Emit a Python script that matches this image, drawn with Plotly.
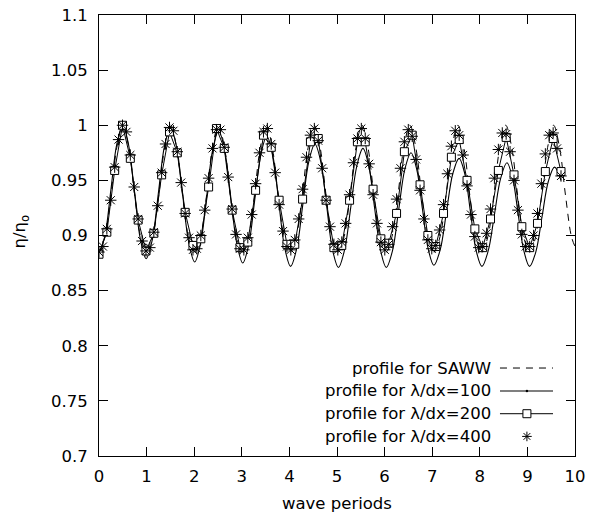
import plotly.graph_objects as go

# ---------------- data ----------------
x_saww = [0.000, 0.125, 0.250, 0.375, 0.500, 0.625, 0.750, 0.875,
          1.005, 1.130, 1.255, 1.380, 1.505, 1.630, 1.755, 1.880,
          2.010, 2.135, 2.260, 2.385, 2.510, 2.635, 2.760, 2.885,
          3.015, 3.140, 3.265, 3.390, 3.515, 3.640, 3.765, 3.890,
          4.020, 4.145, 4.270, 4.395, 4.520, 4.645, 4.770, 4.895,
          5.025, 5.150, 5.275, 5.400, 5.525, 5.650, 5.775, 5.900,
          6.030, 6.155, 6.280, 6.405, 6.530, 6.655, 6.780, 6.905,
          7.040, 7.165, 7.290, 7.415, 7.540, 7.665, 7.790, 7.915,
          8.045, 8.170, 8.295, 8.420, 8.545, 8.670, 8.795, 8.920,
          9.050, 9.175, 9.300, 9.425, 9.550, 9.675, 9.800, 9.925,
          10.000]
y_saww = [0.885, 0.899, 0.9365, 0.980, 1.000, 0.980, 0.9365, 0.899,
          0.885, 0.899, 0.9365, 0.980, 1.000, 0.980, 0.9365, 0.899,
          0.885, 0.899, 0.9365, 0.980, 1.000, 0.980, 0.9365, 0.899,
          0.885, 0.899, 0.9365, 0.980, 1.000, 0.980, 0.9365, 0.899,
          0.885, 0.899, 0.9365, 0.980, 1.000, 0.980, 0.9365, 0.899,
          0.885, 0.899, 0.9365, 0.980, 1.000, 0.980, 0.9365, 0.899,
          0.885, 0.899, 0.9365, 0.980, 1.000, 0.980, 0.9365, 0.899,
          0.885, 0.899, 0.9365, 0.980, 1.000, 0.980, 0.9365, 0.899,
          0.885, 0.899, 0.9365, 0.980, 1.000, 0.980, 0.9365, 0.899,
          0.885, 0.899, 0.9365, 0.980, 1.000, 0.980, 0.9365, 0.899,
          0.890]

x_100 = [0.000, 0.125, 0.250, 0.375, 0.500, 0.6225, 0.745, 0.8675,
         0.990, 1.119, 1.2475, 1.376, 1.505, 1.631, 1.7575, 1.884,
         2.010, 2.136, 2.2625, 2.389, 2.515, 2.641, 2.7675, 2.894,
         3.020, 3.146, 3.2725, 3.399, 3.525, 3.650, 3.775, 3.900,
         4.025, 4.1525, 4.280, 4.4075, 4.535, 4.659, 4.7825, 4.906,
         5.030, 5.159, 5.2875, 5.416, 5.545, 5.6675, 5.790, 5.9125,
         6.035, 6.165, 6.295, 6.425, 6.555, 6.675, 6.795, 6.915,
         7.035, 7.1675, 7.300, 7.4325, 7.565, 7.685, 7.805, 7.925,
         8.045, 8.176, 8.3075, 8.439, 8.570, 8.689, 8.8075, 8.926,
         9.045, 9.176, 9.3075, 9.439, 9.570, 9.705]
y_100 = [0.883, 0.900, 0.9415, 0.983, 1.000, 0.982, 0.9395, 0.897,
         0.879, 0.896, 0.9385, 0.981, 0.998, 0.980, 0.937, 0.894,
         0.876, 0.893, 0.9355, 0.978, 0.995, 0.977, 0.935, 0.893,
         0.875, 0.892, 0.9325, 0.973, 0.990, 0.973, 0.931, 0.889,
         0.872, 0.888, 0.9275, 0.967, 0.983, 0.967, 0.927, 0.887,
         0.871, 0.887, 0.925, 0.963, 0.979, 0.963, 0.925, 0.887,
         0.871, 0.886, 0.923, 0.960, 0.975, 0.960, 0.924, 0.888,
         0.873, 0.887, 0.9215, 0.956, 0.970, 0.956, 0.921, 0.886,
         0.872, 0.886, 0.919, 0.952, 0.966, 0.952, 0.919, 0.886,
         0.872, 0.885, 0.917, 0.949, 0.962, 0.950]

x_200 = [0.000, 0.165, 0.329, 0.494, 0.658, 0.823, 0.987, 1.152, 1.316, 1.481,
         1.645, 1.810, 1.974, 2.139, 2.303, 2.468, 2.632, 2.797, 2.961, 3.126,
         3.290, 3.455, 3.619, 3.784, 3.948, 4.113, 4.277, 4.442, 4.606, 4.771,
         4.935, 5.100, 5.264, 5.429, 5.593, 5.758, 5.922, 6.087, 6.251, 6.416,
         6.580, 6.745, 6.909, 7.074, 7.238, 7.403, 7.567, 7.732, 7.896, 8.061,
         8.225, 8.390, 8.554, 8.719, 8.883, 9.048, 9.212, 9.377, 9.541, 9.706]
y_200 = [0.883, 0.903, 0.959, 1.000, 0.970, 0.914, 0.886, 0.902, 0.955, 0.994,
         0.975, 0.921, 0.891, 0.897, 0.944, 0.997, 0.979, 0.923, 0.889, 0.894,
         0.941, 0.991, 0.980, 0.932, 0.892, 0.892, 0.933, 0.985, 0.988, 0.932,
         0.889, 0.891, 0.932, 0.985, 0.985, 0.942, 0.897, 0.893, 0.920, 0.976,
         0.991, 0.946, 0.900, 0.890, 0.920, 0.971, 0.987, 0.950, 0.906, 0.889,
         0.915, 0.959, 0.989, 0.955, 0.908, 0.889, 0.911, 0.958, 0.988, 0.958]

x_400 = [0.000, 0.082, 0.165, 0.247, 0.329, 0.411, 0.494, 0.576, 0.658, 0.740,
         0.823, 0.905, 0.987, 1.069, 1.152, 1.234, 1.316, 1.398, 1.481, 1.563,
         1.645, 1.727, 1.810, 1.892, 1.974, 2.056, 2.139, 2.221, 2.303, 2.385,
         2.468, 2.550, 2.632, 2.714, 2.797, 2.879, 2.961, 3.043, 3.126, 3.208,
         3.290, 3.372, 3.455, 3.537, 3.619, 3.701, 3.784, 3.866, 3.948, 4.030,
         4.113, 4.195, 4.277, 4.359, 4.442, 4.524, 4.606, 4.688, 4.771, 4.853,
         4.935, 5.017, 5.100, 5.182, 5.264, 5.346, 5.429, 5.511, 5.593, 5.675,
         5.758, 5.840, 5.922, 6.004, 6.087, 6.169, 6.251, 6.333, 6.416, 6.498,
         6.580, 6.662, 6.745, 6.827, 6.909, 6.991, 7.074, 7.156, 7.238, 7.320,
         7.403, 7.485, 7.567, 7.649, 7.732, 7.814, 7.896, 7.978, 8.061, 8.143,
         8.225, 8.307, 8.390, 8.472, 8.554, 8.636, 8.719, 8.801, 8.883, 8.965,
         9.048, 9.130, 9.212, 9.294, 9.377, 9.459, 9.541, 9.623, 9.706]
y_400 = [0.885, 0.890, 0.906, 0.932, 0.962, 0.987, 1.000, 0.994, 0.973, 0.944,
         0.915, 0.895, 0.886, 0.889, 0.903, 0.927, 0.957, 0.983, 0.998, 0.995,
         0.976, 0.948, 0.920, 0.898, 0.887, 0.888, 0.900, 0.923, 0.952, 0.979,
         0.996, 0.996, 0.980, 0.953, 0.924, 0.901, 0.888, 0.887, 0.898, 0.919,
         0.947, 0.975, 0.994, 0.997, 0.983, 0.957, 0.928, 0.904, 0.890, 0.887,
         0.896, 0.915, 0.942, 0.971, 0.991, 0.997, 0.986, 0.961, 0.932, 0.908,
         0.892, 0.887, 0.894, 0.911, 0.937, 0.966, 0.988, 0.997, 0.988, 0.965,
         0.937, 0.911, 0.894, 0.887, 0.892, 0.908, 0.933, 0.961, 0.985, 0.996,
         0.990, 0.969, 0.941, 0.915, 0.896, 0.888, 0.891, 0.905, 0.928, 0.956,
         0.981, 0.995, 0.991, 0.973, 0.945, 0.919, 0.899, 0.889, 0.890, 0.902,
         0.924, 0.952, 0.978, 0.993, 0.992, 0.976, 0.950, 0.923, 0.901, 0.890,
         0.890, 0.900, 0.920, 0.947, 0.974, 0.991, 0.993, 0.979, 0.954]

x_ticks = [0, 1, 2, 3, 4, 5, 6, 7, 8, 9, 10]
y_ticks = [0.7, 0.75, 0.8, 0.85, 0.9, 0.95, 1.0, 1.05, 1.1]
y_tick_text = ["0.7", "0.75", "0.8", "0.85", "0.9", "0.95", "1", "1.05", "1.1"]

legend_labels = ["profile for SAWW", "profile for \u03bb/dx=100",
                 "profile for \u03bb/dx=200", "profile for \u03bb/dx=400"]

# ---------------- figure ----------------
FONT = "DejaVu Sans"
FS = 16.5
BLACK = "#000000"

fig = go.Figure()

fig.add_trace(go.Scatter(x=x_saww, y=y_saww, mode="lines",
                         line=dict(color=BLACK, width=1, dash="7px,6px", shape="spline"),
                         hoverinfo="skip", showlegend=False))
fig.add_trace(go.Scatter(x=x_100, y=y_100, mode="lines",
                         line=dict(color=BLACK, width=1.1, shape="spline"),
                         hoverinfo="skip", showlegend=False))
fig.add_trace(go.Scatter(x=x_200, y=y_200, mode="lines+markers",
                         line=dict(color=BLACK, width=1),
                         marker=dict(symbol="square", size=8, color="white",
                                     line=dict(color=BLACK, width=1)),
                         hoverinfo="skip", showlegend=False))
fig.add_trace(go.Scatter(x=x_400, y=y_400, mode="markers",
                         marker=dict(symbol="asterisk-open", size=9.5, color=BLACK,
                                     line=dict(color=BLACK, width=1)),
                         hoverinfo="skip", showlegend=False))

# ---- legend (gnuplot style: text right-aligned, sample on the right) ----
leg_y = [0.1995, 0.1474, 0.0959, 0.0444]
leg_x0, leg_x1, leg_xm, leg_text_x = 0.8424, 0.9538, 0.899, 0.827
fig.add_trace(go.Scatter(x=[leg_x0, leg_x1], y=[leg_y[0]] * 2, mode="lines",
                         line=dict(color=BLACK, width=1, dash="7px,6px"),
                         xaxis="x2", yaxis="y2", hoverinfo="skip", showlegend=False))
fig.add_trace(go.Scatter(x=[leg_x0, leg_x1], y=[leg_y[1]] * 2, mode="lines",
                         line=dict(color=BLACK, width=1.1),
                         xaxis="x2", yaxis="y2", hoverinfo="skip", showlegend=False))
fig.add_trace(go.Scatter(x=[leg_xm], y=[leg_y[1]], mode="markers",
                         marker=dict(symbol="circle", size=2.5, color=BLACK),
                         xaxis="x2", yaxis="y2", hoverinfo="skip", showlegend=False))
fig.add_trace(go.Scatter(x=[leg_x0, leg_x1], y=[leg_y[2]] * 2, mode="lines",
                         line=dict(color=BLACK, width=1),
                         xaxis="x2", yaxis="y2", hoverinfo="skip", showlegend=False))
fig.add_trace(go.Scatter(x=[leg_xm], y=[leg_y[2]], mode="markers",
                         marker=dict(symbol="square", size=8, color="white",
                                     line=dict(color=BLACK, width=1)),
                         xaxis="x2", yaxis="y2", hoverinfo="skip", showlegend=False))
fig.add_trace(go.Scatter(x=[leg_xm], y=[leg_y[3]], mode="markers",
                         marker=dict(symbol="asterisk-open", size=8, color=BLACK,
                                     line=dict(color=BLACK, width=1)),
                         xaxis="x2", yaxis="y2", hoverinfo="skip", showlegend=False))

annotations = []
for lab, yy in zip(legend_labels, leg_y):
    annotations.append(dict(x=leg_text_x, y=yy, xref="paper", yref="paper",
                            text=lab, showarrow=False, xanchor="right", yanchor="middle",
                            font=dict(family=FONT, size=FS, color=BLACK)))
annotations.append(dict(x=0.5, y=-0.1066, xref="paper", yref="paper",
                        text="wave periods", showarrow=False,
                        xanchor="center", yanchor="middle",
                        font=dict(family=FONT, size=FS, color=BLACK)))
annotations.append(dict(x=-0.164, y=0.509, xref="paper", yref="paper",
                        text="\u03b7/\u03b7<sub>o</sub>", showarrow=False, textangle=-90,
                        xanchor="center", yanchor="middle",
                        font=dict(family=FONT, size=FS, color=BLACK)))

axis_common = dict(showline=True, linecolor=BLACK, linewidth=1, mirror="allticks",
                   ticks="inside", ticklen=9, tickwidth=1, tickcolor=BLACK,
                   showgrid=False, zeroline=False, automargin=False,
                   tickfont=dict(family=FONT, size=FS, color=BLACK))

fig.update_layout(
    width=590, height=518,
    margin=dict(l=99, r=15, t=15, b=62, pad=0),
    paper_bgcolor="white", plot_bgcolor="white",
    showlegend=False,
    annotations=annotations,
    xaxis=dict(range=[0, 10], tickvals=x_ticks, ticklabelstandoff=5, **axis_common),
    yaxis=dict(range=[0.7, 1.1], tickvals=y_ticks, ticktext=y_tick_text,
               ticklabelstandoff=7, **axis_common),
    xaxis2=dict(range=[0, 1], overlaying="x", visible=False, fixedrange=True,
                automargin=False),
    yaxis2=dict(range=[0, 1], overlaying="y", visible=False, fixedrange=True,
                automargin=False),
)

fig.write_html("out.html",
               config={"displayModeBar": False},
               post_script="document.body.style.margin='0px';"
                           "document.body.style.overflow='hidden';")
